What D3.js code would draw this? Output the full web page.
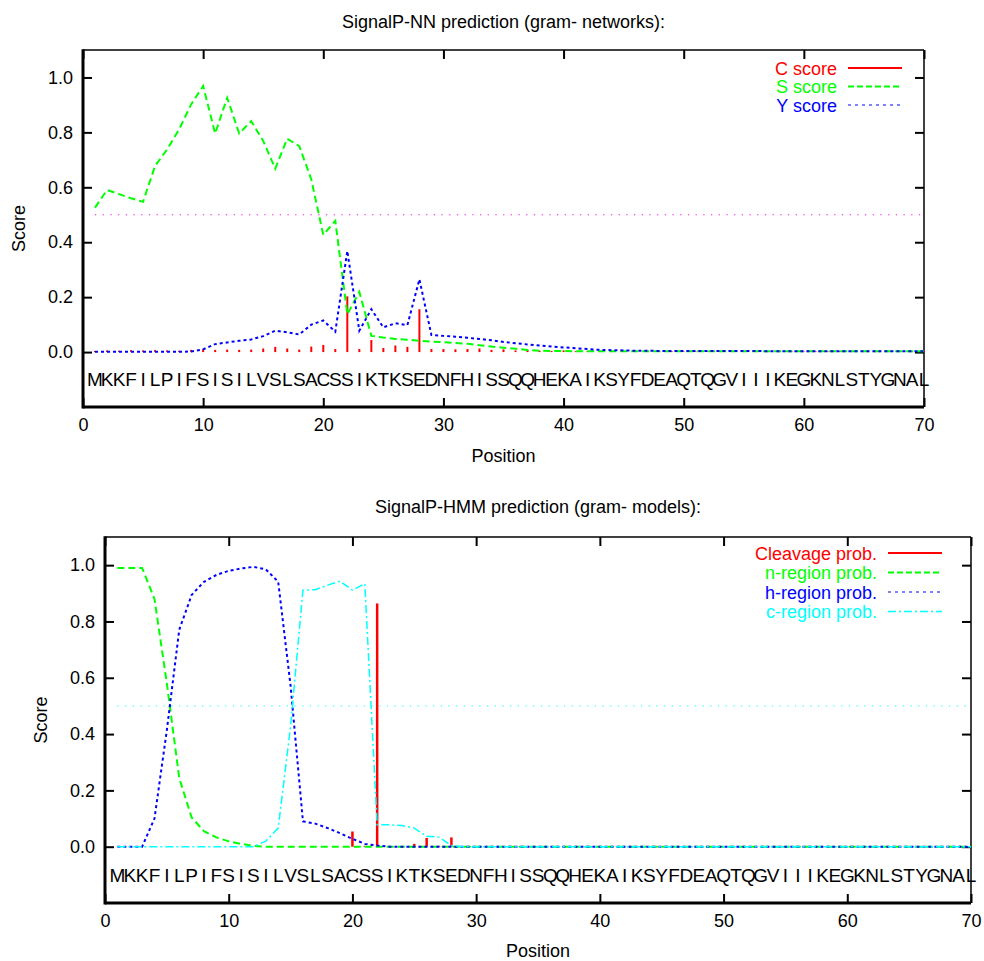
<!DOCTYPE html>
<head>
    <title>SignalP prediction</title>
    <script src="https://cdn.jsdelivr.net/npm/d3@7"></script>
    <style>
        body { margin: 0; background: #fff; }
        text { font-family: "Liberation Sans", Arial, sans-serif; }
    </style>
</head>
<body>
<div id="container"></div>
<script>

    // Sequence (one letter per position 1..70)
    const sequence = "MKKFILPIFSISILVSLSACSSIKTKSEDNFHISSQQHEKAIKSYFDEAQTQGVIIIKEGKNLSTYGNAL".split("");

    // NN scores
    const cScore = [
        0.004, 0.006, 0.005, 0.007, 0.006, 0.007, 0.006, 0.005, 0.008, 0.011,
        0.008, 0.009, 0.008, 0.009, 0.013, 0.019, 0.013, 0.009, 0.020, 0.026,
        0.011, 0.203, 0.011, 0.044, 0.015, 0.024, 0.019, 0.156, 0.011, 0.011,
        0.010, 0.011, 0.013, 0.008, 0.010, 0.006, 0.008, 0.005, 0.004, 0.006,
        0.003, 0.004, 0.003, 0.003, 0.002, 0.003, 0.002, 0.002, 0.003, 0.002,
        0.002, 0.002, 0.003, 0.002, 0.002, 0.002, 0.002, 0.002, 0.002, 0.002,
        0.002, 0.002, 0.002, 0.002, 0.002, 0.002, 0.002, 0.002, 0.002, 0.003
    ];
    const sScore = [
        0.526, 0.590, 0.575, 0.560, 0.547, 0.678, 0.738, 0.811, 0.902, 0.969,
        0.796, 0.926, 0.796, 0.841, 0.769, 0.668, 0.777, 0.750, 0.629, 0.427,
        0.478, 0.138, 0.219, 0.059, 0.053, 0.048, 0.045, 0.041, 0.038, 0.036,
        0.033, 0.030, 0.025, 0.020, 0.016, 0.012, 0.008, 0.005, 0.004, 0.004,
        0.003, 0.003, 0.003, 0.003, 0.003, 0.003, 0.003, 0.003, 0.003, 0.003,
        0.003, 0.003, 0.003, 0.003, 0.003, 0.003, 0.003, 0.003, 0.003, 0.003,
        0.003, 0.003, 0.003, 0.003, 0.003, 0.003, 0.003, 0.003, 0.003, 0.003
    ];
    const yScore = [
        0.001, 0.001, 0.001, 0.001, 0.001, 0.001, 0.001, 0.001, 0.002, 0.010,
        0.029, 0.035, 0.041, 0.046, 0.058, 0.078, 0.072, 0.064, 0.100, 0.115,
        0.074, 0.368, 0.078, 0.156, 0.090, 0.105, 0.098, 0.265, 0.062, 0.059,
        0.056, 0.052, 0.048, 0.043, 0.037, 0.032, 0.028, 0.024, 0.020, 0.017,
        0.014, 0.011, 0.008, 0.007, 0.006, 0.005, 0.005, 0.004, 0.004, 0.004,
        0.004, 0.004, 0.004, 0.004, 0.004, 0.004, 0.003, 0.003, 0.003, 0.003,
        0.003, 0.003, 0.003, 0.003, 0.003, 0.003, 0.003, 0.003, 0.003, 0.003
    ];

    // HMM probabilities
    const cleavageProb = [
        0, 0, 0, 0, 0, 0, 0, 0, 0, 0,
        0, 0, 0, 0, 0, 0, 0, 0, 0, 0.054,
        0.003, 0.864, 0.002, 0.002, 0.010, 0.031, 0.003, 0.033, 0, 0,
        0, 0, 0, 0, 0, 0, 0, 0, 0, 0,
        0, 0, 0, 0, 0, 0, 0, 0, 0, 0,
        0, 0, 0, 0, 0, 0, 0, 0, 0, 0,
        0, 0, 0, 0, 0, 0, 0, 0, 0, 0
    ];
    const nRegion = [
        0.990, 0.990, 0.990, 0.880, 0.580, 0.244, 0.104, 0.055, 0.033, 0.019,
        0.010, 0.003, 0, 0, 0, 0, 0, 0, 0, 0,
        0, 0, 0, 0, 0, 0, 0, 0, 0, 0,
        0, 0, 0, 0, 0, 0, 0, 0, 0, 0,
        0, 0, 0, 0, 0, 0, 0, 0, 0, 0,
        0, 0, 0, 0, 0, 0, 0, 0, 0, 0,
        0, 0, 0, 0, 0, 0, 0, 0, 0, 0
    ];
    const hRegion = [
        0, 0, 0, 0.100, 0.414, 0.770, 0.894, 0.941, 0.965, 0.980,
        0.988, 0.994, 0.985, 0.941, 0.572, 0.090, 0.082, 0.066, 0.048, 0.028,
        0.010, 0.004, 0, 0, 0, 0, 0, 0, 0, 0,
        0, 0, 0, 0, 0, 0, 0, 0, 0, 0,
        0, 0, 0, 0, 0, 0, 0, 0, 0, 0,
        0, 0, 0, 0, 0, 0, 0, 0, 0, 0,
        0, 0, 0, 0, 0, 0, 0, 0, 0, 0
    ];
    const cRegion = [
        0, 0, 0, 0, 0, 0, 0, 0, 0, 0,
        0, 0, 0.020, 0.066, 0.427, 0.911, 0.913, 0.929, 0.943, 0.911,
        0.934, 0.078, 0.078, 0.075, 0.066, 0.037, 0.034, 0.004, 0, 0,
        0, 0, 0, 0, 0, 0, 0, 0, 0, 0,
        0, 0, 0, 0, 0, 0, 0, 0, 0, 0,
        0, 0, 0, 0, 0, 0, 0, 0, 0, 0,
        0, 0, 0, 0, 0, 0, 0, 0, 0, 0
    ];

    const xTicks = [0, 10, 20, 30, 40, 50, 60, 70];
    const yTicks = [0.0, 0.2, 0.4, 0.6, 0.8, 1.0];
    const threshold = 0.5;

    const svg = d3.select("#container")
        .append("svg")
        .attr("width", 984)
        .attr("height", 961);

    // Draw one gnuplot-like panel
    function drawPanel(opt) {
        const x = d3.scaleLinear().domain([0, 70]).range([opt.left, opt.right]);
        const y = d3.scaleLinear().domain([-0.2, 1.1]).range([opt.bottom, opt.top]);
        const g = svg.append("g");
        const fontSize = 18;

        // title
        g.append("text")
            .attr("x", (opt.left + opt.right) / 2)
            .attr("y", opt.titleY)
            .attr("text-anchor", "middle")
            .attr("font-size", fontSize)
            .text(opt.title);

        // axes with inward ticks
        const bottomAxis = g.append("g")
            .attr("transform", `translate(0,${opt.bottom})`)
            .call(d3.axisBottom(x).tickValues(xTicks).tickFormat(d3.format("d"))
                .tickSizeInner(-9).tickSizeOuter(0).tickPadding(11));
        const leftAxis = g.append("g")
            .attr("transform", `translate(${opt.left},0)`)
            .call(d3.axisLeft(y).tickValues(yTicks).tickFormat(d3.format(".1f"))
                .tickSizeInner(-9).tickSizeOuter(0).tickPadding(10));
        g.append("g")
            .attr("transform", `translate(0,${opt.top})`)
            .call(d3.axisTop(x).tickValues(xTicks).tickFormat("")
                .tickSizeInner(-9).tickSizeOuter(0));
        g.append("g")
            .attr("transform", `translate(${opt.right},0)`)
            .call(d3.axisRight(y).tickValues(yTicks).tickFormat("")
                .tickSizeInner(-9).tickSizeOuter(0));

        g.selectAll(".domain").remove();
        g.selectAll(".tick line").attr("stroke", "#000").attr("stroke-width", 2);
        g.selectAll(".tick text")
            .attr("font-size", fontSize)
            .attr("font-family", "Liberation Sans, Arial, sans-serif")
            .attr("fill", "#000");

        // frame
        g.append("line").attr("x1", opt.left).attr("x2", opt.right)
            .attr("y1", opt.top).attr("y2", opt.top)
            .attr("stroke", "#000").attr("stroke-width", 1.5);
        g.append("line").attr("x1", opt.right).attr("x2", opt.right)
            .attr("y1", opt.top).attr("y2", opt.bottom)
            .attr("stroke", "#000").attr("stroke-width", 1.5);
        g.append("line").attr("x1", opt.left).attr("x2", opt.right)
            .attr("y1", opt.bottom).attr("y2", opt.bottom)
            .attr("stroke", "#000").attr("stroke-width", 3);
        g.append("line").attr("x1", opt.left).attr("x2", opt.left)
            .attr("y1", opt.top - 0.75).attr("y2", opt.bottom + 1.5)
            .attr("stroke", "#000").attr("stroke-width", 3);

        // axis labels
        g.append("text")
            .attr("x", (opt.left + opt.right) / 2)
            .attr("y", opt.xLabelY)
            .attr("text-anchor", "middle")
            .attr("font-size", fontSize)
            .text("Position");
        g.append("text")
            .attr("transform", `translate(${opt.yLabelX},${(opt.top + opt.bottom) / 2}) rotate(-90)`)
            .attr("text-anchor", "middle")
            .attr("font-size", fontSize)
            .text("Score");

        // sequence letters
        g.selectAll(".aa")
            .data(sequence)
            .enter()
            .append("text")
            .attr("class", "aa")
            .attr("x", (d, i) => x(i + 1))
            .attr("y", y(-0.125))
            .attr("text-anchor", "middle")
            .attr("font-size", 19)
            .text(d => d);

        // series
        opt.series.forEach(s => {
            if (s.impulses) {
                g.selectAll(null)
                    .data(s.values)
                    .enter()
                    .append("line")
                    .attr("x1", (d, i) => x(i + 1))
                    .attr("x2", (d, i) => x(i + 1))
                    .attr("y1", y(0))
                    .attr("y2", d => y(d))
                    .attr("stroke", s.color)
                    .attr("stroke-width", s.width);
            } else {
                const line = d3.line()
                    .x((d, i) => x(i + 1))
                    .y(d => y(d));
                g.append("path")
                    .datum(s.values)
                    .attr("d", line)
                    .attr("fill", "none")
                    .attr("stroke", s.color)
                    .attr("stroke-width", s.width)
                    .attr("stroke-dasharray", s.dash);
            }
        });

        // threshold line
        g.append("line")
            .attr("x1", x(1)).attr("x2", x(70))
            .attr("y1", y(threshold)).attr("y2", y(threshold))
            .attr("stroke", opt.thresholdColor)
            .attr("stroke-width", 1)
            .attr("stroke-dasharray", "1.2,6.5");

        // legend
        opt.series.forEach((s, k) => {
            const ly = opt.legendY + k * opt.legendStep;
            g.append("text")
                .attr("x", opt.legendTextX)
                .attr("y", ly + 6.5)
                .attr("text-anchor", "end")
                .attr("font-size", fontSize)
                .attr("fill", s.color)
                .text(s.name);
            g.append("line")
                .attr("x1", opt.legendTextX + 11)
                .attr("x2", opt.legendTextX + 65)
                .attr("y1", ly).attr("y2", ly)
                .attr("stroke", s.color)
                .attr("stroke-width", s.legendWidth)
                .attr("stroke-dasharray", s.legendDash);
        });
    }

    drawPanel({
        left: 83, right: 924, top: 50, bottom: 407,
        title: "SignalP-NN prediction (gram- networks):",
        titleY: 28, xLabelY: 462, yLabelX: 25,
        thresholdColor: "#ff00ff",
        legendTextX: 837, legendY: 68, legendStep: 18.5,
        series: [
            { name: "C score", values: cScore, color: "#ff0000", impulses: true, width: 2, legendWidth: 2, legendDash: null },
            { name: "S score", values: sScore, color: "#00ff00", width: 2, dash: "7,4", legendWidth: 2, legendDash: "6,3" },
            { name: "Y score", values: yScore, color: "#0000ff", width: 2, dash: "3,3", legendWidth: 1, legendDash: "3,4" }
        ]
    });

    drawPanel({
        left: 105, right: 971, top: 537, bottom: 903,
        title: "SignalP-HMM prediction (gram- models):",
        titleY: 513, xLabelY: 957, yLabelX: 47,
        thresholdColor: "#00ffff",
        legendTextX: 877, legendY: 553, legendStep: 19.5,
        series: [
            { name: "Cleavage prob.", values: cleavageProb, color: "#ff0000", impulses: true, width: 2.5, legendWidth: 2, legendDash: null },
            { name: "n-region prob.", values: nRegion, color: "#00ff00", width: 2, dash: "7,4", legendWidth: 2, legendDash: "6,3" },
            { name: "h-region prob.", values: hRegion, color: "#0000ff", width: 2, dash: "3,3", legendWidth: 1, legendDash: "3,4" },
            { name: "c-region prob.", values: cRegion, color: "#00ffff", width: 1.5, dash: "8,3,2,3", legendWidth: 1.5, legendDash: "8,3,2,3" }
        ]
    });

</script>
</body>
